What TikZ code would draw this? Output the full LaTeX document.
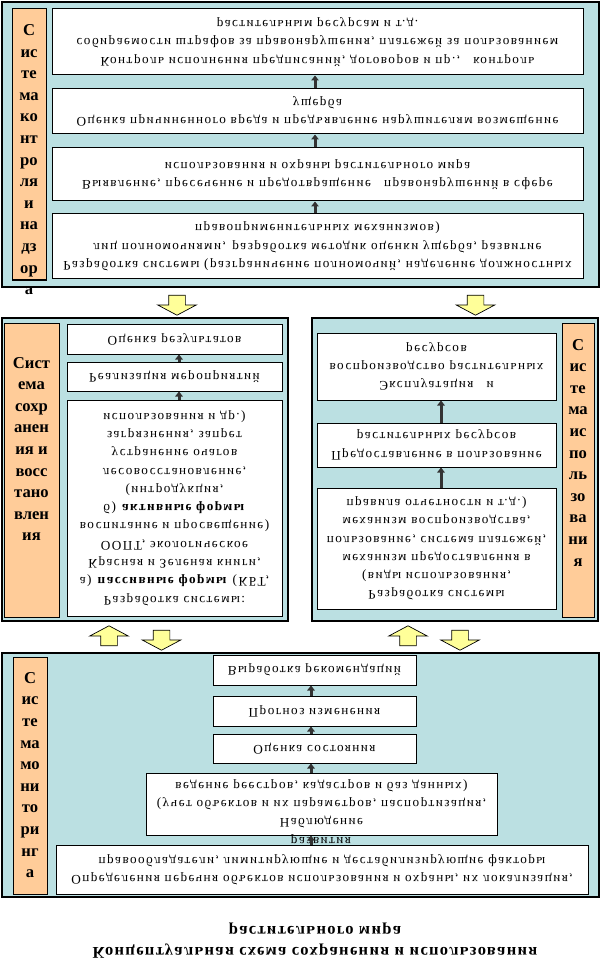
\documentclass[tikz,border=0pt]{standalone}
\usepackage{fontspec}
\setmainfont{Liberation Serif}
\newfontfamily\boxfont{Liberation Serif}[LetterSpace=11]
\newfontfamily\titlefont{Liberation Serif}[LetterSpace=8]
\usetikzlibrary{arrows.meta,shapes.arrows}
\definecolor{panelblue}{RGB}{187,224,226}
\definecolor{sideorange}{RGB}{255,204,153}
\definecolor{arrowyellow}{RGB}{255,255,153}
\definecolor{flowgray}{RGB}{51,51,51}
\tikzset{
        panel/.style={draw=black, fill=panelblue, line width=1.2pt},
        side/.style={draw=black, fill=sideorange, line width=1pt},
        sidetext/.style={anchor=north, inner sep=0pt, align=center,
                font=\fontsize{16.6}{21.6}\selectfont\bfseries},
        flipped/.style={yscale=-1, inner sep=0pt, align=center,
                font=\boxfont\fontsize{13.2}{18.3}\selectfont},
        wbox/.style={flipped, draw=black, fill=white, line width=1pt},
        flow/.style={draw=flowgray, line width=3pt,
                -{Triangle[length=5pt,width=7.5pt]}},
        yarrow/.style={single arrow, draw=black, fill=arrowyellow,
                line width=0.7pt, inner xsep=8pt, inner ysep=0pt,
                minimum height=20pt, minimum width=38pt,
                single arrow head extend=11pt, single arrow tip angle=124},
        yup/.style={yarrow, shape border rotate=90},
        ydown/.style={yarrow, shape border rotate=270}
}

\begin{document}
\begin{tikzpicture}[x=1pt, y=-1pt]
        \useasboundingbox (0,0) rectangle (609,973);
        % panels
        \draw[panel] (2,2) rectangle (599,287);
        \draw[panel] (2,318) rectangle (288,621);
        \draw[panel] (312,318) rectangle (598,621);
        \draw[panel] (2,653) rectangle (599,897);
        \draw[side] (12,9) rectangle (46,280);
        \draw[side] (4,323) rectangle (59,617);
        \draw[side] (562,323) rectangle (594,617);
        \draw[side] (13,657) rectangle (47,894);
        \node (lk) [sidetext] at (29,24.4) {С\\ис\\те\\ма\\ко\\нт\\ро\\ля\\и\\на\\дз\\ор\\а};
        \node (ls) [sidetext] at (31.5,357) {Сист\\ема\\сохр\\анен\\ия и\\восс\\тано\\влен\\ия};
        \node (li) [sidetext] at (578,339) {С\\ис\\те\\ма\\ис\\по\\ль\\зо\\ва\\ни\\я};
        \node (lm) [sidetext] at (30,672) {С\\ис\\те\\ма\\мо\\ни\\то\\ри\\нг\\а};
        % control (text is turned upside down, so .south is the upper edge)
        \node (k1) [wbox, minimum width=531pt, minimum height=66pt] at (317.5,42) {Контроль исполнения предписаний, договоров и пр.,\quad контроль\\собираемости штрафов за правонарушения, платежей за пользованием\\растительным ресурсам и т.д.};
        \node (k2) [wbox, minimum width=531pt, minimum height=45pt] at (317.5,111.5) {Оценка причиненного вреда и предъявление нарушителям возмещение\\ущерба};
        \node (k3) [wbox, minimum width=531pt, minimum height=53pt] at (317.5,174.5) {Выявление, пресечение и предотвращение\quad правонарушений в сфере\\использования и охраны растительного мира};
        \node (k4) [wbox, minimum width=531pt, minimum height=65pt] at (317.5,246.5) {Разработка системы (разграничение полномочий, наделение должностных\\лиц полномочиями,\enspace разработка методик оценки ущерба, развитие\\правоприменительных механизмов)};
        % preservation
        \node (s1) [wbox, minimum width=215pt, minimum height=30pt] at (174.5,339) {Оценка результатов};
        \node (s2) [wbox, minimum width=215pt, minimum height=29pt] at (174.5,376.5) {Реализация мероприятий};
        \node (s3) [wbox, minimum width=215pt, minimum height=216pt] at (174.5,508) {Разработка системы:\\а) \textbf{пассивные формы} (КБТ,\\Красная и Зеленая книги,\\ООПТ, экологическое\\воспитание и просвещение)\\б) \textbf{активные формы}\\(интродукция,\\лесовосстановление,\\устранение очагов\\загрязнения, запрет\\использования и др.)};
        % use
        \node (i1) [wbox, minimum width=239pt, minimum height=67pt] at (436.5,366.5) {Эксплуатация\quad и\\воспроизводство растительных\\ресурсов};
        \node (i2) [wbox, minimum width=239pt, minimum height=44pt] at (436.5,445) {Предоставление в пользование\\растительных ресурсов};
        \node (i3) [wbox, minimum width=239pt, minimum height=121pt] at (436.5,548.5) {Разработка системы\\(виды использования,\\механизм предоставления в\\пользование, система платежей,\\механизм воспроизводства,\\правила отчетности и т.д.)};
        % monitoring
        \node (m1) [wbox, minimum width=203pt, minimum height=30pt] at (314.5,670) {Выработка рекомендаций};
        \node (m2) [wbox, minimum width=203pt, minimum height=30pt] at (314.5,711) {Прогноз изменения};
        \node (m3) [wbox, minimum width=203pt, minimum height=29pt] at (314.5,748.5) {Оценка состояния};
        \node (m4) [wbox, minimum width=351pt, minimum height=62pt] at (321.5,804) {Наблюдение\\(учет объектов и их параметров, паспортизация,\\ведение реестров, кадастров и баз данных)};
        \node (m5) [wbox, minimum width=532pt, minimum height=49pt] at (322,869.5) {Определения перечня объектов использования и охраны, их локализация,\\правообладатели, лимитирующие и дестабилизирующие факторы};
        \node (m5x) [flipped] at (321,839.5) {развития};
        \node (title) [flipped, font=\titlefont\bfseries\fontsize{16.5}{21}\selectfont] at (315,940.5) {Концептуальная схема сохранения и использования\\растительного мира};
        % arrows inside the panels
        \coordinate (ck) at (315,0);
        \coordinate (cs) at (179,0);
        \coordinate (ci) at (441,0);
        \coordinate (cm) at (311,0);
        \draw[flow] (k4.south -| ck) -- (k3.north -| ck);
        \draw[flow] (k3.south -| ck) -- (k2.north -| ck);
        \draw[flow] (k2.south -| ck) -- (k1.north -| ck);
        \draw[flow] (s3.south -| cs) -- (s2.north -| cs);
        \draw[flow] (s2.south -| cs) -- (s1.north -| cs);
        \draw[flow] (i3.south -| ci) -- (i2.north -| ci);
        \draw[flow] (i2.south -| ci) -- (i1.north -| ci);
        \draw[flow] (m5.south -| cm) -- (m4.north -| cm);
        \draw[flow] (m4.south -| cm) -- (m3.north -| cm);
        \draw[flow] (m3.south -| cm) -- (m2.north -| cm);
        \draw[flow] (m2.south -| cm) -- (m1.north -| cm);
        % arrows between the panels
        \node (y1) [ydown] at (177,303) {};
        \node (y2) [ydown] at (475.5,303) {};
        \node (y3) [yup] at (109,638) {};
        \node (y4) [ydown] at (161.5,638) {};
        \node (y5) [yup] at (408,638) {};
        \node (y6) [ydown] at (460,638) {};
\end{tikzpicture}
\end{document}
